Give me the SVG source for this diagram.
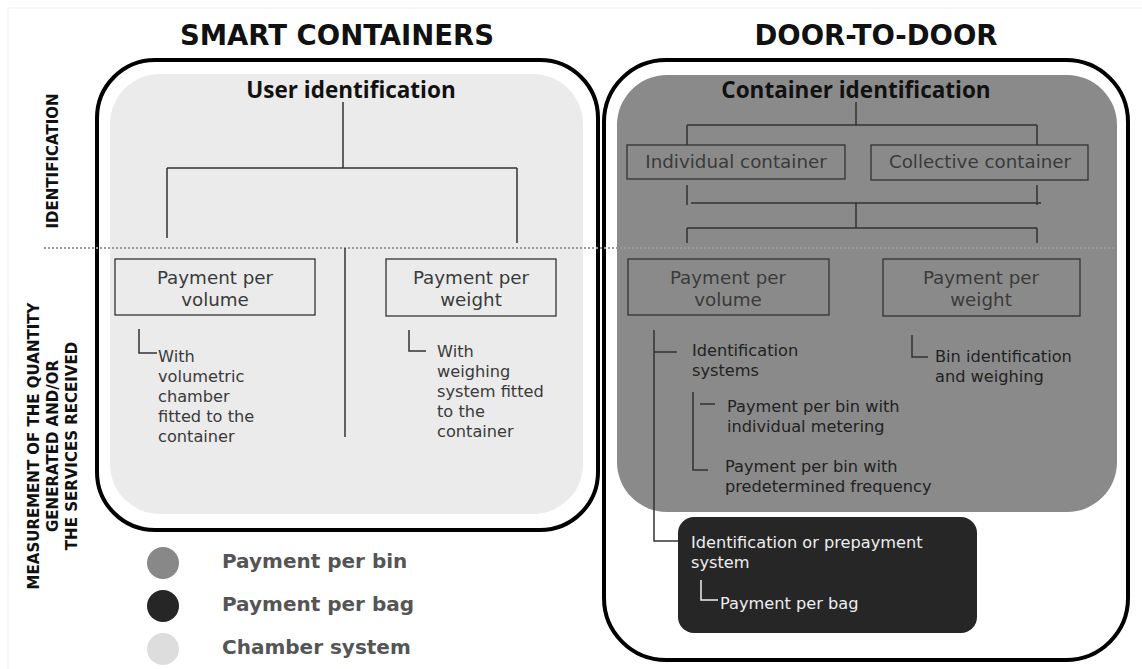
<svg xmlns="http://www.w3.org/2000/svg" width="1142" height="669" viewBox="0 0 1142 669">
<style>
.title{font-family:"DejaVu Sans",sans-serif;font-weight:bold;font-size:27.5px;fill:#111;text-anchor:middle}
.sub{font-family:"Open Sans",sans-serif;font-weight:bold;font-size:22.5px;fill:#111;text-anchor:middle}
.side{font-family:"DejaVu Sans",sans-serif;font-weight:bold;font-size:15px;fill:#111;text-anchor:middle}
.box{fill:none;stroke:#333;stroke-width:1.3}
.bt{font-family:"DejaVu Sans",sans-serif;font-size:18.3px;fill:#3a3a3a;text-anchor:middle}
.t{font-family:"DejaVu Sans",sans-serif;font-size:16.2px;fill:#3a3a3a}
.td{font-family:"DejaVu Sans",sans-serif;font-size:16.2px;fill:#222}
.tw{font-family:"DejaVu Sans",sans-serif;font-size:16.2px;fill:#eee}
.ln{fill:none;stroke:#333;stroke-width:1.5}
.lw{fill:none;stroke:#eee;stroke-width:1.5}
.leg{font-family:"DejaVu Sans",sans-serif;font-weight:bold;font-size:20px;fill:#555}
</style>
<rect x="0" y="0" width="1142" height="669" fill="#fff"/>
<path d="M8 669 V8 H1142" fill="none" stroke="#eee" stroke-width="1"/>

<g id="titles">
<text class="title" x="337" y="45">SMART CONTAINERS</text>
<text class="title" x="876" y="45">DOOR-TO-DOOR</text>
</g>

<g id="side-labels">
<text class="side" transform="translate(57.5,161) rotate(-90)">IDENTIFICATION</text>
<text class="side" transform="translate(38.5,446) rotate(-90)">MEASUREMENT OF THE QUANTITY</text>
<text class="side" transform="translate(58,446) rotate(-90)">GENERATED AND/OR</text>
<text class="side" transform="translate(77,446) rotate(-90)">THE SERVICES RECEIVED</text>
</g>

<g id="smart-containers">
<rect x="97" y="60" width="501" height="470" rx="58" fill="#fff" stroke="#000" stroke-width="4"/>
<rect x="110" y="74" width="473" height="440" rx="50" fill="#ebebeb"/>
</g>

<g id="door-to-door">
<rect x="604" y="60" width="524" height="600" rx="62" fill="#fff" stroke="#000" stroke-width="4"/>
<rect x="617" y="75" width="500" height="437" rx="50" fill="#8a8a8a"/>
<rect x="678" y="517" width="299" height="116" rx="16" fill="#262626"/>
</g>

<g id="divider">
<line x1="44" y1="248" x2="1116" y2="248" stroke="#999" stroke-width="2" stroke-dasharray="2,2"/>
</g>

<g id="user-identification">
<text class="sub" x="351" y="98">User identification</text>
</g>
<g id="sc-payment-volume">
<rect class="box" x="115" y="259" width="200" height="56"/>
<text class="bt" x="215" y="284">Payment per</text>
<text class="bt" x="215" y="306">volume</text>
</g>
<g id="sc-payment-weight">
<rect class="box" x="386" y="259" width="170" height="57"/>
<text class="bt" x="471" y="284">Payment per</text>
<text class="bt" x="471" y="306">weight</text>
</g>
<g id="sc-volumetric">
<text class="t" x="158" y="362">With</text>
<text class="t" x="158" y="382">volumetric</text>
<text class="t" x="158" y="402">chamber</text>
<text class="t" x="158" y="422">fitted to the</text>
<text class="t" x="158" y="442">container</text>
</g>
<g id="sc-weighing">
<text class="t" x="437" y="357">With</text>
<text class="t" x="437" y="377">weighing</text>
<text class="t" x="437" y="397">system fitted</text>
<text class="t" x="437" y="417">to the</text>
<text class="t" x="437" y="437">container</text>
</g>

<g id="container-identification">
<text class="sub" x="856" y="98">Container identification</text>
</g>
<g id="individual-container">
<rect class="box" x="627" y="145" width="218" height="34"/>
<text class="bt" x="736" y="168">Individual container</text>
</g>
<g id="collective-container">
<rect class="box" x="871" y="145" width="217" height="35"/>
<text class="bt" x="980" y="168">Collective container</text>
</g>
<g id="dd-payment-volume">
<rect class="box" x="628" y="259" width="201" height="56"/>
<text class="bt" x="728" y="284">Payment per</text>
<text class="bt" x="728" y="306">volume</text>
</g>
<g id="dd-payment-weight">
<rect class="box" x="883" y="259" width="197" height="57"/>
<text class="bt" x="981" y="284">Payment per</text>
<text class="bt" x="981" y="306">weight</text>
</g>
<g id="identification-systems">
<text class="td" x="692" y="356">Identification</text>
<text class="td" x="692" y="376">systems</text>
</g>
<g id="individual-metering">
<text class="td" x="727" y="412">Payment per bin with</text>
<text class="td" x="727" y="432">individual metering</text>
</g>
<g id="predetermined-frequency">
<text class="td" x="725" y="472">Payment per bin with</text>
<text class="td" x="725" y="492">predetermined frequency</text>
</g>
<g id="bin-weighing">
<text class="td" x="935" y="362">Bin identification</text>
<text class="td" x="935" y="382">and weighing</text>
</g>
<g id="prepayment">
<text class="tw" x="691" y="548">Identification or prepayment</text>
<text class="tw" x="691" y="568">system</text>
<text class="tw" x="720" y="609">Payment per bag</text>
</g>

<g id="legend">
<circle cx="163" cy="563" r="16" fill="#888"/>
<text class="leg" x="222" y="568">Payment per bin</text>
<circle cx="163" cy="606" r="16" fill="#262626"/>
<text class="leg" x="222" y="611">Payment per bag</text>
<circle cx="163" cy="649" r="16" fill="#ddd"/>
<text class="leg" x="222" y="654">Chamber system</text>
</g>

<g id="connectors">
<path class="ln" d="M343 102 V168 M167 168 H517 M167 168 V238 M517 168 V243"/>
<path class="ln" d="M345 248 V437"/>
<path class="ln" d="M139 329 V353 H157"/>
<path class="ln" d="M409 330 V351 H426"/>
<path class="ln" d="M856 102 V125 M687 125 H1037 M687 125 V145 M1037 125 V145"/>
<path class="ln" d="M687 185 V205 M1037 185 V205 M691 203 H1041 M856 203 V228 M687 228 H1037 M687 228 V243 M1037 228 V243"/>
<path class="ln" d="M654 330 V541 H678 M654 352 H677"/>
<path class="ln" d="M693 392 V470 H708 M700 404 H715"/>
<path class="ln" d="M912 335 V357 H928"/>
<path class="lw" d="M701 580 V600 H718"/>
</g>
</svg>
